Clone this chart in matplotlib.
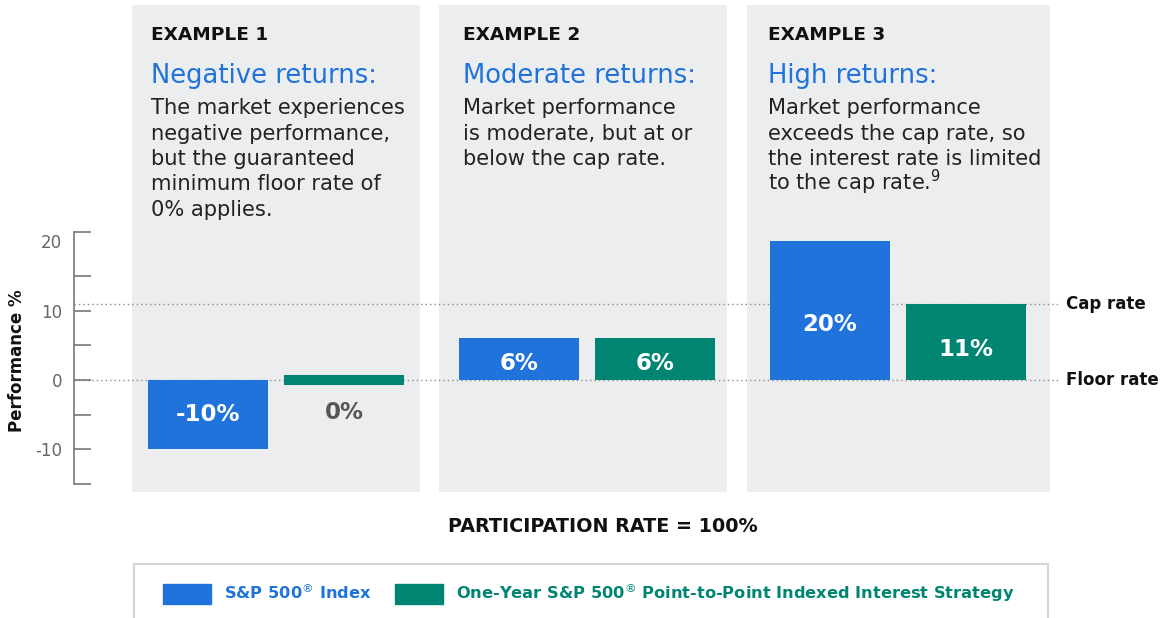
import numpy as np
import matplotlib
matplotlib.use("Agg")
import matplotlib.pyplot as plt
import matplotlib.transforms as mtransforms
from matplotlib.patches import Rectangle, Patch

# ---------------- data ----------------
examples = ["EXAMPLE 1", "EXAMPLE 2", "EXAMPLE 3"]
headlines = ["Negative returns:", "Moderate returns:", "High returns:"]
descriptions = [
    ["The market experiences", "negative performance,", "but the guaranteed",
     "minimum floor rate of", "0% applies."],
    ["Market performance", "is moderate, but at or", "below the cap rate."],
    ["Market performance", "exceeds the cap rate, so", "the interest rate is limited",
     "to the cap rate.$^{9}$"],
]
sp500_values = [-10, 6, 20]
strategy_values = [0, 6, 11]
series_names = ["S&P 500$^{®}$ Index",
                "One-Year S&P 500$^{®}$ Point-to-Point Indexed Interest Strategy"]
cap_rate = 11
floor_rate = 0
major_ticks = [-10, 0, 10, 20]
minor_ticks = [-15, -5, 5, 15, 21.3]
ylabel = "Performance %"
subtitle = "PARTICIPATION RATE = 100%"

# ---------------- style ----------------
BLUE = "#1F73DB"
GREEN = "#008572"
PANEL = "#ECEDEF"
W, H = 1160, 618

fig = plt.figure(figsize=(W / 100, H / 100), dpi=100)
fig.patch.set_facecolor("white")

ax_l, ax_r, ax_t, ax_b = 74, 1058, 5, 492
ax = fig.add_axes([ax_l / W, 1 - ax_b / H, (ax_r - ax_l) / W, (ax_b - ax_t) / H])
ax.set_facecolor("none")

unit = 311.0
c0 = 276.0
ax.set_xlim((ax_l - c0) / unit, (ax_r - c0) / unit)
pxu = 6.93
ax.set_ylim(-(ax_b - 380) / pxu, (380 - ax_t) / pxu)

x = np.arange(len(examples))
panel_left_px = [144, 148, 151.5]
panel_right_px = [144, 140, 151.5]
off = 68 / unit
bw = 120 / unit

for xi, pl, pr in zip(x, panel_left_px, panel_right_px):
    ax.axvspan(xi - pl / unit, xi + pr / unit, color=PANEL, zorder=0, lw=0)

# reference lines
for v in (cap_rate, floor_rate):
    ax.axhline(v, color="#8a8a8a", lw=1.0, linestyle=(0, (1, 2.2)), zorder=1)

# bars
ax.bar(x - off, sp500_values, width=bw, color=BLUE, zorder=2, label=series_names[0])
g_heights = [v if v != 0 else 1.4 for v in strategy_values]
g_bottoms = [0 if v != 0 else -0.7 for v in strategy_values]
ax.bar(x + off, g_heights, bottom=g_bottoms, width=bw, color=GREEN, zorder=2,
       label=series_names[1])

def label_y(v):
    if v > 0:
        return 0.4 * v
    if v < 0:
        return v / 2
    return -4.7

for xi, v in zip(x, sp500_values):
    ax.text(xi - off, label_y(v), f"{v}%", ha="center", va="center", color="white",
            fontsize=16.5, fontweight="bold", zorder=3)
for xi, v in zip(x, strategy_values):
    ax.text(xi + off, label_y(v), f"{v}%", ha="center", va="center",
            color="white" if v != 0 else "#555555",
            fontsize=16.5, fontweight="bold", zorder=3)

# axis styling
for s in ("top", "right", "bottom"):
    ax.spines[s].set_visible(False)
ax.spines["left"].set_bounds(-15, 21.3)
ax.spines["left"].set_color("#777777")
ax.spines["left"].set_linewidth(1.2)
ax.set_xticks([])
ax.set_yticks(major_ticks)
ax.set_yticklabels([str(t) for t in major_ticks])
ax.set_yticks(minor_ticks, minor=True)
ax.tick_params(axis="y", which="both", direction="in", length=12.2, width=1.2,
               color="#777777")
ax.tick_params(axis="y", which="major", labelsize=12, labelcolor="#666666", pad=8.6)
ax.yaxis.get_major_ticks()[-1].tick1line.set_visible(False)

fig.text(17 / W, 1 - 361 / H, ylabel, rotation=90, ha="center", va="center",
         fontsize=12, fontweight="bold", color="#111111")

# cap / floor labels
btr = mtransforms.blended_transform_factory(ax.transAxes, ax.transData)
ax.text(1 + 8 / (ax_r - ax_l), cap_rate, "Cap rate", transform=btr,
        ha="left", va="center", fontsize=12, fontweight="bold", color="#111111", clip_on=False)
ax.text(1 + 8 / (ax_r - ax_l), floor_rate, "Floor rate", transform=btr,
        ha="left", va="center", fontsize=12, fontweight="bold", color="#111111", clip_on=False)

# panel texts
tr = mtransforms.blended_transform_factory(ax.transData, fig.transFigure)
pad_px = [19, 24, 21]
for xi, pl, pp, ex, hl, desc in zip(x, panel_left_px, pad_px, examples, headlines, descriptions):
    left = xi + (pp - pl) / unit
    ax.text(left, 1 - 40 / H, ex, transform=tr, ha="left", va="baseline",
            fontsize=13.3, fontweight="bold", color="#111111")
    ax.text(left, 1 - 83 / H, hl, transform=tr, ha="left", va="baseline",
            fontsize=18.6, color=BLUE)
    for i, line in enumerate(desc):
        ax.text(left, 1 - (114 + 25.5 * i) / H, line, transform=tr, ha="left",
                va="baseline", fontsize=15.1, color="#222222")

fig.text(603 / W, 1 - 527 / H, subtitle, ha="center", va="center",
         fontsize=13.8, fontweight="bold", color="#111111")

# legend frame
fig.patches.append(Rectangle((134 / W, -0.05), (1048 - 134) / W, 0.05 + 1 - 564 / H,
                             transform=fig.transFigure, facecolor="none",
                             edgecolor="#d6d6d6", lw=1.6))
fs_leg = 11.7
fs_px = fs_leg * 100 / 72
handles = [Patch(color=BLUE), Patch(color=GREEN)]
leg = fig.legend(handles, series_names, loc="center left",
                 bbox_to_anchor=(163 / W, 1 - 593 / H), ncol=2, frameon=False,
                 borderpad=0, borderaxespad=0, handlelength=48 / fs_px,
                 handleheight=24 / fs_px, handletextpad=13 / fs_px,
                 columnspacing=23 / fs_px,
                 prop={"size": fs_leg, "weight": "bold"})
for t, c in zip(leg.get_texts(), (BLUE, GREEN)):
    t.set_color(c)

fig.savefig("out.png", dpi=100)
